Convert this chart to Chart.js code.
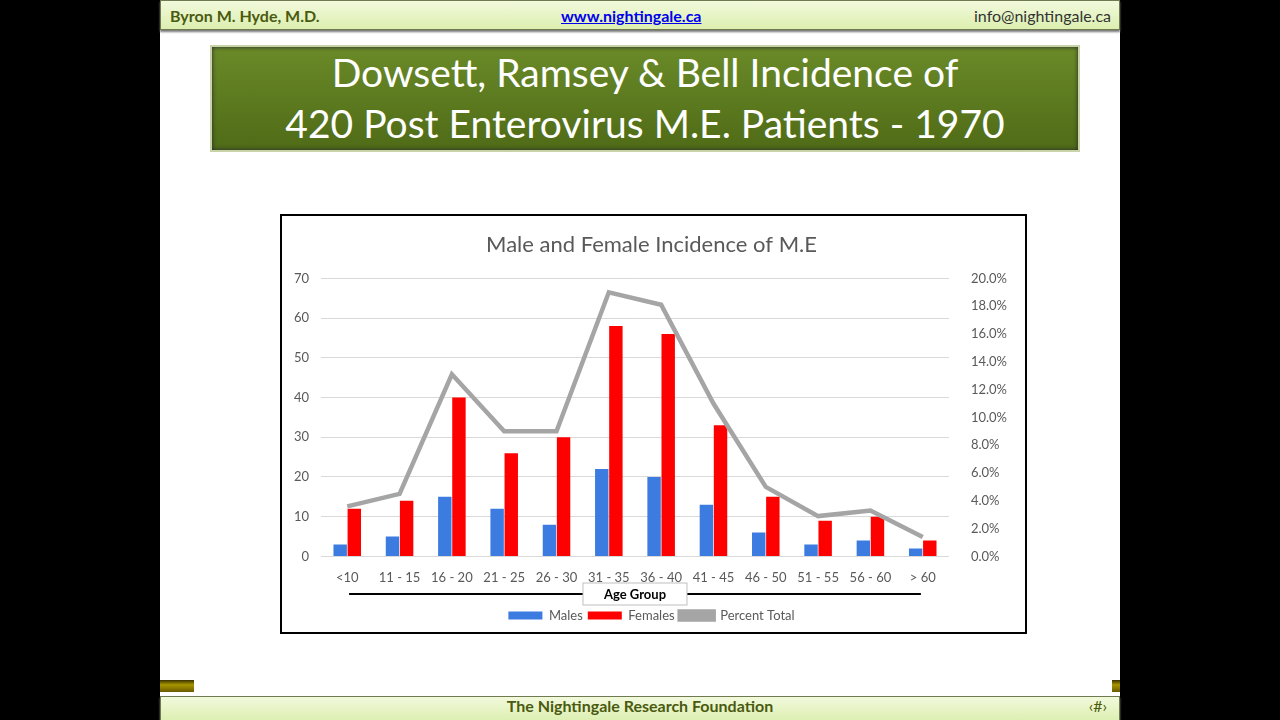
<!DOCTYPE html>
<html>
<head>
<meta charset="utf-8">
<script src="https://cdn.jsdelivr.net/npm/chart.js@4"></script>
<style>
  body { margin: 0; width: 1280px; height: 720px; background: #000; position: relative; overflow: hidden; font-family: Lato, "Open Sans", sans-serif; }
  #slide { position: absolute; left: 160px; top: 0; width: 960px; height: 720px; background: #fff; }
  .bar { position: absolute; left: 0; width: 958px; background: linear-gradient(#f2f9dc, #dcefb0); border: 1px solid #6f7a50; box-shadow: 0 2px 2px #777; color: #4a5a10; font-weight: bold; font-size: 16px; }
  #head { top: 0; height: 28px; line-height: 30px; }
  #foot { top: 696px; height: 24px; line-height: 18px; text-align: center; }
  .stripe { position: absolute; top: 680px; width: 34px; height: 12px; background: linear-gradient(#3a3000, #a89600 40%, #6a5a00); }
  #titlebox { position: absolute; left: 50px; top: 45px; width: 866px; height: 103px; background: linear-gradient(#6a8a28, #4f6b17); border: 2px solid #c9d3a8; box-shadow: inset 0 0 4px #223; color: #fff; text-align: center; font-size: 39px; line-height: 51px; }
  #chartbox { position: absolute; left: 120px; top: 214px; width: 743px; height: 416px; border: 2px solid #000; }
</style>
</head>
<body>
<div id="slide">
  <div class="bar" id="head">
    <span style="position:absolute;left:9px">Byron M. Hyde, M.D.</span>
    <span style="position:absolute;left:400px;color:#0000ee;text-decoration:underline">www.nightingale.ca</span>
    <span style="position:absolute;right:8px;font-weight:normal;color:#333">info@nightingale.ca</span>
  </div>
  <div id="titlebox">Dowsett, Ramsey &amp; Bell Incidence of<br>420 Post Enterovirus M.E. Patients - 1970</div>
  <div id="chartbox"><canvas id="c" width="743" height="416"></canvas></div>
  <div class="stripe" style="left:0"></div>
  <div class="stripe" style="right:0;width:8px"></div>
  <div class="bar" id="foot">The Nightingale Research Foundation<span style="position:absolute;right:12px;font-weight:normal">‹#›</span></div>
</div>
<script>
const categories = ["<10", "11 - 15", "16 - 20", "21 - 25", "26 - 30", "31 - 35", "36 - 40", "41 - 45", "46 - 50", "51 - 55", "56 - 60", "> 60"];
const males = [3, 5, 15, 12, 8, 22, 20, 13, 6, 3, 4, 2];
const females = [12, 14, 40, 26, 30, 58, 56, 33, 15, 9, 10, 4];
const percentTotal = [3.6, 4.5, 13.1, 9.0, 9.0, 19.0, 18.1, 11.0, 5.0, 2.9, 3.3, 1.4];

// line under the category labels and boxed axis title
const ageGroupDeco = {
  id: "ageGroupDeco",
  afterDraw(chart) {
    const ctx = chart.ctx, x = chart.scales.x;
    const y = x.bottom - 10;
    ctx.save();
    ctx.strokeStyle = "#000";
    ctx.lineWidth = 2;
    ctx.beginPath();
    ctx.moveTo(x.left + 28, y);
    ctx.lineTo(x.right - 28, y);
    ctx.stroke();
    const cx = (x.left + x.right) / 2;
    ctx.fillStyle = "#fff";
    ctx.fillRect(cx - 52, y - 11, 104, 22);
    ctx.strokeStyle = "#bfbfbf";
    ctx.lineWidth = 1;
    ctx.strokeRect(cx - 52, y - 11, 104, 22);
    ctx.fillStyle = "#000";
    ctx.font = "bold 13px Lato";
    ctx.textAlign = "center";
    ctx.textBaseline = "middle";
    ctx.fillText("Age Group", cx, y + 1);
    ctx.restore();
  }
};

new Chart(document.getElementById("c"), {
  type: "bar",
  data: {
    labels: categories,
    datasets: [
      { label: "Males", data: males, backgroundColor: "#3c7be0", yAxisID: "y", order: 2 },
      { label: "Females", data: females, backgroundColor: "#ff0000", yAxisID: "y", order: 2 },
      { label: "Percent Total", type: "line", data: percentTotal, borderColor: "#a5a5a5", backgroundColor: "#a5a5a5", borderWidth: 4.5, pointRadius: 0, tension: 0, yAxisID: "y1", order: 1 }
    ]
  },
  options: {
    responsive: false,
    animation: false,
    layout: { padding: { left: 0, right: 4, top: 4, bottom: 0 } },
    datasets: { bar: { categoryPercentage: 0.54, barPercentage: 0.95 } },
    scales: {
      x: {
        grid: { display: false },
        border: { display: false },
        ticks: { color: "#595959", font: { family: "Lato", size: 13 }, padding: 6 },
        title: { display: true, text: " ", font: { size: 10 }, padding: { top: 0, bottom: 0 } }
      },
      y: {
        min: 0, max: 70,
        ticks: { stepSize: 10, color: "#595959", font: { family: "Lato", size: 13 }, padding: 12 },
        grid: { color: "#d9d9d9", drawTicks: false },
        border: { display: false }
      },
      y1: {
        position: "right",
        min: 0, max: 20,
        ticks: { stepSize: 2, color: "#595959", font: { family: "Lato", size: 13 }, padding: 14, callback: v => v.toFixed(1) + "%" },
        grid: { display: false },
        border: { display: false }
      }
    },
    plugins: {
      title: { display: true, text: "Male and Female Incidence of M.E", color: "#595959", font: { family: "Lato", size: 22, weight: "normal" }, padding: { top: 12, bottom: 20 } },
      legend: { position: "bottom", labels: { color: "#595959", font: { family: "Lato", size: 13 }, boxWidth: 34, boxHeight: 8, padding: 5, sort: (a, b) => a.datasetIndex - b.datasetIndex } },
      tooltip: { enabled: false }
    }
  },
  plugins: [ageGroupDeco]
});
</script>
</body>
</html>
